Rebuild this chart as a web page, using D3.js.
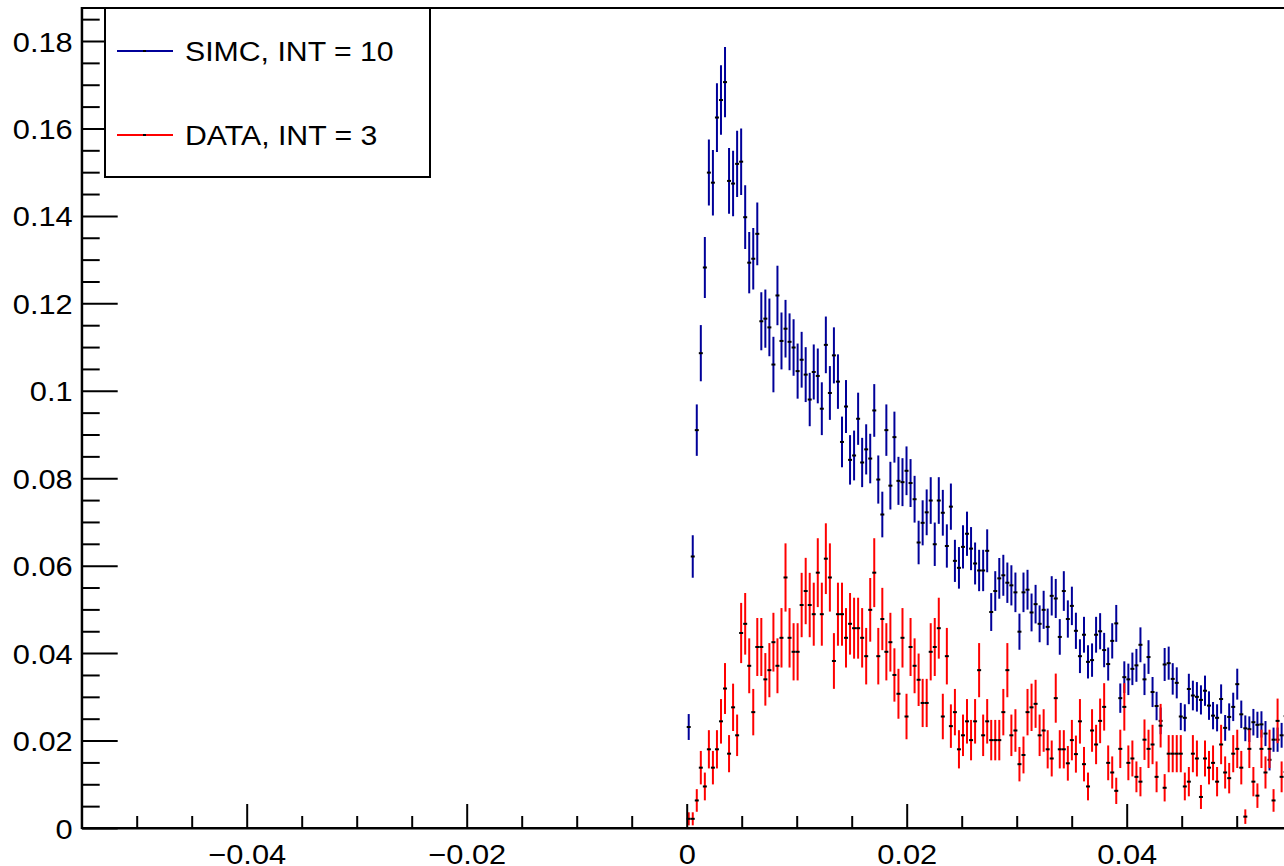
<!DOCTYPE html>
<html><head><meta charset="utf-8">
<script src="https://cdn.jsdelivr.net/npm/d3@7"></script>
<style>html,body{margin:0;padding:0;background:#fff;overflow:hidden}</style>
</head><body>
<svg id="c" width="1284" height="866"></svg>
<script>
// ---- histogram definition ----
const xDomain = [-0.055, 0.055];
const yDomain = [0, 0.18755];
const nBins = 300;
const firstFilledLowEdge = 0;   // arrays below start at the bin whose low edge is 0

// SIMC, INT = 10 (bin contents, starting at x = 0)
const simcValues = [
  0.0231, 0.0621, 0.0910, 0.1086, 0.1282, 0.1499, 0.1476, 0.1625, 0.1665, 0.1706,
  0.1480, 0.1474, 0.1519, 0.1524, 0.1397, 0.1293, 0.1302, 0.1359, 0.1159, 0.1165,
  0.1145, 0.1060, 0.1218, 0.1114, 0.1142, 0.1112, 0.1099, 0.1045, 0.1071, 0.1037,
  0.0980, 0.1043, 0.1034, 0.0959, 0.1105, 0.0995, 0.1081, 0.1021, 0.0883, 0.0964,
  0.0842, 0.0852, 0.0936, 0.0836, 0.0866, 0.0845, 0.0955, 0.0797, 0.0717, 0.0910,
  0.0783, 0.0894, 0.0794, 0.0791, 0.0817, 0.0789, 0.0752, 0.0653, 0.0698, 0.0722,
  0.0749, 0.0649, 0.0749, 0.0721, 0.0645, 0.0735, 0.0611, 0.0595, 0.0643, 0.0673,
  0.0639, 0.0605, 0.0589, 0.0589, 0.0634, 0.0494, 0.0542, 0.0571, 0.0578, 0.0561,
  0.0555, 0.0539, 0.0449, 0.0539, 0.0545, 0.0493, 0.0512, 0.0467, 0.0499, 0.0460,
  0.0531, 0.0525, 0.0437, 0.0542, 0.0478, 0.0508, 0.0451, 0.0393, 0.0442, 0.0380,
  0.0384, 0.0442, 0.0450, 0.0407, 0.0375, 0.0428, 0.0468, 0.0297, 0.0345, 0.0340,
  0.0364, 0.0372, 0.0419, 0.0340, 0.0391, 0.0311, 0.0279, 0.0245, 0.0374, 0.0377,
  0.0341, 0.0332, 0.0255, 0.0252, 0.0318, 0.0303, 0.0300, 0.0293, 0.0314, 0.0280,
  0.0257, 0.0252, 0.0295, 0.0229, 0.0254, 0.0277, 0.0329, 0.0260, 0.0228, 0.0226,
  0.0242, 0.0236, 0.0237, 0.0216, 0.0156, 0.0202, 0.0202, 0.0212, 0.0256
];

// DATA, INT = 3 (bin contents, starting at x = 0)
const dataValues = [
  0.0021, 0.0021, 0.0063, 0.0138, 0.0095, 0.0180, 0.0138, 0.0180, 0.0244, 0.0319,
  0.0170, 0.0276, 0.0212, 0.0446, 0.0467, 0.0371, 0.0265, 0.0414, 0.0414, 0.0340,
  0.0361, 0.0425, 0.0371, 0.0435, 0.0573, 0.0435, 0.0403, 0.0403, 0.0510, 0.0542,
  0.0510, 0.0489, 0.0584, 0.0489, 0.0616, 0.0573, 0.0382, 0.0489, 0.0489, 0.0435,
  0.0467, 0.0457, 0.0457, 0.0435, 0.0393, 0.0499, 0.0584, 0.0393, 0.0478, 0.0403,
  0.0425, 0.0350, 0.0307, 0.0435, 0.0255, 0.0414, 0.0371, 0.0339, 0.0286, 0.0286,
  0.0403, 0.0414, 0.0457, 0.0255, 0.0393, 0.0233, 0.0265, 0.0180, 0.0212, 0.0244,
  0.0201, 0.0244, 0.0361, 0.0212, 0.0244, 0.0201, 0.0201, 0.0201, 0.0265, 0.0361,
  0.0212, 0.0223, 0.0146, 0.0167, 0.0265, 0.0276, 0.0284, 0.0212, 0.0223, 0.0180,
  0.0159, 0.0297, 0.0180, 0.0180, 0.0148, 0.0201, 0.0169, 0.0244, 0.0146, 0.0095,
  0.0223, 0.0191, 0.0245, 0.0277, 0.0149, 0.0127, 0.0085, 0.0181, 0.0277, 0.0149,
  0.0159, 0.0117, 0.0106, 0.0202, 0.0181, 0.0191, 0.0117, 0.0234, 0.0092, 0.0170,
  0.0170, 0.0170, 0.0170, 0.0095, 0.0106, 0.0170, 0.0159, 0.0071, 0.0159, 0.0138,
  0.0149, 0.0106, 0.0191, 0.0127, 0.0114, 0.0170, 0.0181, 0.0138, 0.0026, 0.0181,
  0.0106, 0.0074, 0.0181, 0.0127, 0.0181, 0.0063, 0.0245, 0.0117, 0.0128
];

// Poisson error scale per series (sigma = scale * sqrt(content))
const simcErrScale = 0.0195;
const dataErrScale = 0.0326;

const seriesNames = ["SIMC, INT = 10", "DATA, INT = 3"];
const seriesColors = ["#000099", "#ff0000"];

const xMajorTicks = [-0.04, -0.02, 0, 0.02, 0.04];
const xTickLabels = ["\u22120.04", "\u22120.02", "0", "0.02", "0.04"];
const xMinorTicks = [-0.05, -0.045, -0.035, -0.03, -0.025, -0.015, -0.01, -0.005,
                     0.005, 0.01, 0.015, 0.025, 0.03, 0.035, 0.045, 0.05];
const yMajorTicks = [0, 0.02, 0.04, 0.06, 0.08, 0.1, 0.12, 0.14, 0.16, 0.18];
const yTickLabels = ["0", "0.02", "0.04", "0.06", "0.08", "0.1", "0.12", "0.14", "0.16", "0.18"];
const yMinorTicks = [0.005, 0.01, 0.015, 0.025, 0.03, 0.035, 0.045, 0.05, 0.055,
                     0.065, 0.07, 0.075, 0.085, 0.09, 0.095, 0.105, 0.11, 0.115,
                     0.125, 0.13, 0.135, 0.145, 0.15, 0.155, 0.165, 0.17, 0.175, 0.185];

// ---- drawing ----
const svg = d3.select("#c");
const FONT = "'Liberation Sans', Arial, Helvetica, sans-serif";
const plotLeft = 81.7, plotRight = 1291.7, plotTop = 8, plotBottom = 828;

const x = d3.scaleLinear().domain(xDomain).range([plotLeft, plotRight]);
const y = d3.scaleLinear().domain(yDomain).range([plotBottom, plotTop]);
const binWidth = (xDomain[1] - xDomain[0]) / nBins;

function stretch(sel, f) {
  sel.each(function () {
    const L = this.getComputedTextLength();
    this.setAttribute("textLength", L * f);
    this.setAttribute("lengthAdjust", "spacingAndGlyphs");
  });
}

svg.append("defs").append("clipPath").attr("id", "plotclip")
  .append("rect").attr("x", plotLeft).attr("y", plotTop)
  .attr("width", plotRight - plotLeft).attr("height", plotBottom - plotTop);

const plot = svg.append("g").attr("clip-path", "url(#plotclip)");

function drawSeries(values, errScale, color) {
  const pts = values.map((v, i) => ({
    xc: firstFilledLowEdge + (i + 0.5) * binWidth,
    v: v,
    e: errScale * Math.sqrt(v)
  }));
  const g = plot.append("g");
  g.selectAll("line.err").data(pts).enter().append("line")
    .attr("x1", d => x(d.xc)).attr("x2", d => x(d.xc))
    .attr("y1", d => y(Math.max(0, d.v - d.e))).attr("y2", d => y(d.v + d.e))
    .attr("stroke", color).attr("stroke-width", 2);
  g.selectAll("rect.mk").data(pts).enter().append("rect")
    .attr("x", d => x(d.xc) - 2).attr("y", d => y(d.v) - 1)
    .attr("width", 4).attr("height", 2).attr("fill", "#000");
}
drawSeries(simcValues, simcErrScale, seriesColors[0]);
drawSeries(dataValues, dataErrScale, seriesColors[1]);

// frame (top & right)
svg.append("rect").attr("x", plotLeft).attr("y", plotTop)
  .attr("width", plotRight - plotLeft).attr("height", plotBottom - plotTop)
  .attr("fill", "none").attr("stroke", "#000").attr("stroke-width", 2);

// x axis
const xAxisG = svg.append("g").attr("transform", `translate(0,${plotBottom})`);
xAxisG.call(d3.axisBottom(x).tickValues(xMajorTicks)
  .tickFormat((d, i) => xTickLabels[i]).tickSizeInner(-24).tickSizeOuter(0).tickPadding(16));
const xMinorG = svg.append("g").attr("transform", `translate(0,${plotBottom})`);
xMinorG.call(d3.axisBottom(x).tickValues(xMinorTicks).tickFormat("").tickSizeInner(-12).tickSizeOuter(0));
xMinorG.select(".domain").remove();

// y axis
const yAxisG = svg.append("g").attr("transform", `translate(${plotLeft},0)`);
yAxisG.call(d3.axisLeft(y).tickValues(yMajorTicks)
  .tickFormat((d, i) => yTickLabels[i]).tickSizeInner(-36).tickSizeOuter(0).tickPadding(9));
const yMinorG = svg.append("g").attr("transform", `translate(${plotLeft},0)`);
yMinorG.call(d3.axisLeft(y).tickValues(yMinorTicks).tickFormat("").tickSizeInner(-18).tickSizeOuter(0));
yMinorG.select(".domain").remove();

svg.selectAll(".domain").attr("stroke", "#000").attr("stroke-width", 2);
svg.selectAll(".tick line").attr("stroke", "#000").attr("stroke-width", 2);
svg.selectAll(".tick text").attr("font-family", FONT).attr("font-size", 28).attr("fill", "#000");
yAxisG.selectAll(".tick text").attr("dy", null).attr("y", 10);
stretch(svg.selectAll(".tick text"), 1.1);

// legend
const legend = svg.append("g");
legend.append("rect").attr("x", 105).attr("y", 8).attr("width", 325).attr("height", 169)
  .attr("fill", "#fff").attr("stroke", "#000").attr("stroke-width", 2);
const legY = [51, 135];
seriesNames.forEach((name, i) => {
  legend.append("line").attr("x1", 117).attr("x2", 173).attr("y1", legY[i]).attr("y2", legY[i])
    .attr("stroke", seriesColors[i]).attr("stroke-width", 2);
  legend.append("rect").attr("x", 143).attr("y", legY[i] - 1).attr("width", 3).attr("height", 2).attr("fill", "#000");
  const t = legend.append("text").attr("x", 185).attr("y", legY[i] + 10)
    .attr("font-family", FONT).attr("font-size", 27).attr("fill", "#000").text(name);
  stretch(t, 1.12);
});
</script>
</body></html>
